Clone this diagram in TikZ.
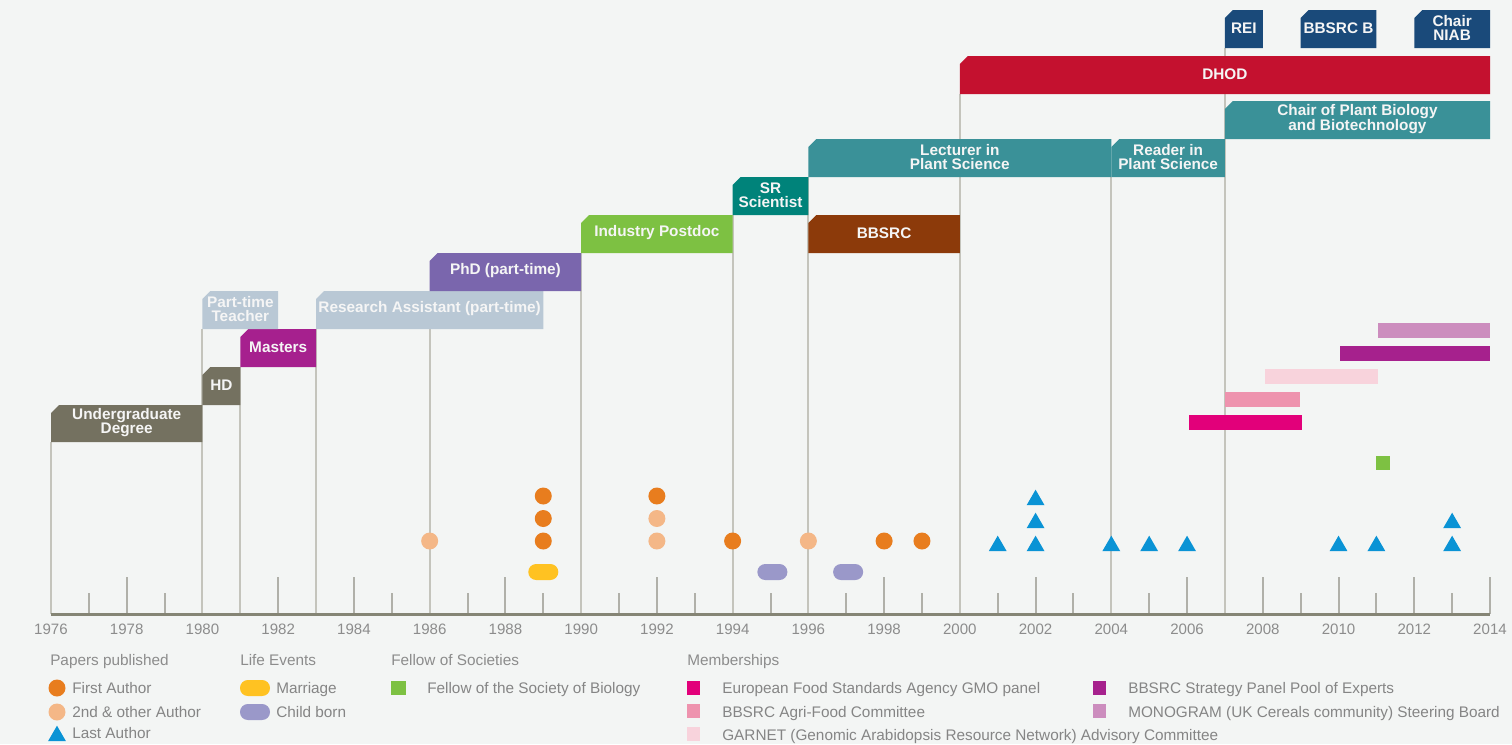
\documentclass[tikz,border=0pt]{standalone}
\usepackage{fontspec}
\setmainfont{Liberation Sans}
\usetikzlibrary{shapes.geometric}
\definecolor{bgc}{HTML}{F3F5F4}
\definecolor{olive}{HTML}{747160}
\definecolor{mag}{HTML}{A6208E}
\definecolor{lblue}{HTML}{B9C8D5}
\definecolor{phdp}{HTML}{7A66AD}
\definecolor{igreen}{HTML}{7DC142}
\definecolor{srteal}{HTML}{00837A}
\definecolor{brn}{HTML}{8C3A0A}
\definecolor{teal2}{HTML}{3A9198}
\definecolor{dred}{HTML}{C4112F}
\definecolor{navy2}{HTML}{1A4A7A}
\definecolor{orng}{HTML}{E87D1E}
\definecolor{lorng}{HTML}{F4B787}
\definecolor{tblue}{HTML}{0A93D5}
\definecolor{yell}{HTML}{FFC222}
\definecolor{lav}{HTML}{9A98C9}
\definecolor{efsa}{HTML}{E2007A}
\definecolor{agri}{HTML}{EE93AE}
\definecolor{garnet}{HTML}{F8D3DC}
\definecolor{strat}{HTML}{A6218D}
\definecolor{mono}{HTML}{CC8DBE}
\definecolor{vgrey}{HTML}{C4C4BC}
\definecolor{axgrey}{HTML}{858575}
\definecolor{txtgrey}{HTML}{8C8C8C}
\pgfdeclarelayer{back}
\pgfdeclarelayer{lines}
\pgfsetlayers{back,lines,main}
\newcommand\yr[1]{(51+((#1)-1976)*37.868)}
\newcommand\cbox[7]{%
  \fill[#6] ({\yr{#2}},#5) -- ({\yr{#2}},{#4+8}) -- ({\yr{#2}+8},#4) -- ({\yr{#3}},#4) -- ({\yr{#3}},#5) -- cycle;
  \coordinate (#1-bl) at ({\yr{#2}},#5);
  \node[boxlabel] (#1) at ({(\yr{#2}+\yr{#3})/2},{(#4+#5)/2-1}) {#7};
}
\tikzset{
  boxlabel/.style={text=white!96!black, font=\bfseries\fontsize{11.5}{10.5}\selectfont, align=center, inner sep=0pt},
  vline/.style={draw=vgrey, line width=1.5pt},
  tickline/.style={draw=vgrey!90!black, line width=1.5pt},
  axisline/.style={draw=axgrey, line width=2.25pt},
  yearlbl/.style={text=txtgrey, font=\fontsize{11.3}{13}\selectfont, inner sep=0pt},
  dotA/.style={circle, fill=orng, minimum size=12.75pt, inner sep=0pt},
  dotB/.style={circle, fill=lorng, minimum size=12.75pt, inner sep=0pt},
  tri/.style={regular polygon, regular polygon sides=3, fill=tblue, minimum size=15.5pt, inner sep=0pt},
  pill/.style={rectangle, rounded corners=5.9pt, minimum width=22.5pt, minimum height=12pt, inner sep=0pt},
  sq/.style={rectangle, minimum width=10.5pt, minimum height=10.5pt, inner sep=0pt},
  msq/.style={rectangle, minimum width=9.75pt, minimum height=11pt, inner sep=0pt},
  legtitle/.style={anchor=base west, text=txtgrey, font=\fontsize{11.5}{13}\selectfont, inner sep=0pt},
  legtext/.style={anchor=base west, text=txtgrey!95!black, font=\fontsize{11.5}{13}\selectfont, inner sep=0pt},
}
\begin{document}
\begin{tikzpicture}[x=0.75pt,y=-0.75pt]
\useasboundingbox (0,0) rectangle (1512,744);
\begin{pgfonlayer}{back}
\fill[bgc] (0,0) rectangle (1512,744);
\end{pgfonlayer}
\coordinate (axisl) at (51,614);
\coordinate (axisr) at (1490,614);
% career boxes
\cbox{ug}{1976}{1980}{405}{442}{olive}{Undergraduate\\Degree}
\cbox{hd}{1980}{1981}{367}{405}{olive}{HD}
\cbox{ms}{1981}{1983}{329}{367}{mag}{Masters}
\cbox{pt}{1980}{1982}{291}{329}{lblue}{Part-time\\Teacher}
\cbox{ra}{1983}{1989}{291}{329}{lblue}{Research Assistant (part-time)}
\cbox{phd}{1986}{1990}{253}{291}{phdp}{PhD (part-time)}
\cbox{ip}{1990}{1994}{215}{253}{igreen}{Industry Postdoc}
\cbox{sr}{1994}{1996}{177}{215}{srteal}{SR\\Scientist}
\cbox{bb}{1996}{2000}{215}{253}{brn}{BBSRC}
\cbox{lec}{1996}{2004}{139}{177}{teal2}{Lecturer in\\Plant Science}
\cbox{rd}{2004}{2007}{139}{177}{teal2}{Reader in\\Plant Science}
\cbox{ch}{2007}{2014}{101}{139}{teal2}{Chair of Plant Biology\\and Biotechnology}
\cbox{dh}{2000}{2014}{56}{94}{dred}{DHOD}
\cbox{rei}{2007}{2008}{10}{48}{navy2}{REI}
\cbox{bbb}{2009}{2011}{10}{48}{navy2}{BBSRC B}
\cbox{niab}{2012}{2014}{10}{48}{navy2}{Chair\\NIAB}
% connectors from boxes to axis
\begin{pgfonlayer}{lines}
\foreach \n in {ug,pt,ms,ra,phd,ip,sr,lec,dh,rd,rei}
  \draw[vline] (\n-bl) -- (\n-bl |- axisl);
\foreach \y in {1978,1982,1984,1988,1992,1998,2002,2006,2008,2010,2012,2014}
  \draw[tickline] ({\yr{\y}},577) -- ({\yr{\y}},614);
\foreach \y in {1977,1979,1985,1987,1989,1991,1993,1995,1997,1999,2001,2003,2005,2009,2011,2013}
  \draw[tickline] ({\yr{\y}},593) -- ({\yr{\y}},614);
\end{pgfonlayer}
\draw[axisline] (axisl) -- (axisr);
\foreach \y in {1976,1978,...,2014}
  \node[yearlbl] (yl\y) at ({\yr{\y}},629) {\y};
% memberships
\fill[mono] (1378,323) rectangle (1490,338);
\fill[strat] (1340,346) rectangle (1490,361);
\fill[garnet] (1265,369) rectangle (1378,384);
\fill[agri] (1225,392) rectangle (1300,407);
\fill[efsa] (1189,415) rectangle (1302,430);
% fellow
\node[sq, fill=igreen] (fel) at ({\yr{2011.18}},463) {};
% papers
\node[dotB] (p1) at ({\yr{1986}},541) {};
\node[dotA] (p2) at ({\yr{1989}},541) {};
\node[dotA] (p3) at ({\yr{1989}},518.5) {};
\node[dotA] (p4) at ({\yr{1989}},496) {};
\node[dotB] (p5) at ({\yr{1992}},541) {};
\node[dotB] (p6) at ({\yr{1992}},518.5) {};
\node[dotA] (p7) at ({\yr{1992}},496) {};
\node[dotA] (p8) at ({\yr{1994}},541) {};
\node[dotB] (p9) at ({\yr{1996}},541) {};
\node[dotA] (p10) at ({\yr{1998}},541) {};
\node[dotA] (p11) at ({\yr{1999}},541) {};
\node[tri] (t1) at ({\yr{2001}},546) {};
\node[tri] (t2) at ({\yr{2002}},546) {};
\node[tri] (t3) at ({\yr{2002}},523) {};
\node[tri] (t4) at ({\yr{2002}},500) {};
\node[tri] (t5) at ({\yr{2004}},546) {};
\node[tri] (t6) at ({\yr{2005}},546) {};
\node[tri] (t7) at ({\yr{2006}},546) {};
\node[tri] (t8) at ({\yr{2010}},546) {};
\node[tri] (t9) at ({\yr{2011}},546) {};
\node[tri] (t10) at ({\yr{2013}},546) {};
\node[tri] (t11) at ({\yr{2013}},523) {};
% life events
\node[pill, fill=yell] (mar) at ({\yr{1989}},572) {};
\node[pill, fill=lav] (c1) at ({\yr{1995.05}},572) {};
\node[pill, fill=lav] (c2) at ({\yr{1997.05}},572) {};
% legend
\node[legtitle] (lt1) at (50,665.5) {Papers published};
\node[dotA] (lg1) at (57,688) {};
\node[legtext] (lg1t) at (72,693.5) {First Author};
\node[dotB] (lg2) at (57,712) {};
\node[legtext] (lg2t) at (72,717.5) {2nd \& other Author};
\node[tri] (lg3) at (57,736) {};
\node[legtext] (lg3t) at (72,738.5) {Last Author};
\node[legtitle] (lt2) at (240,665.5) {Life Events};
\node[pill, fill=yell] (lg4) at (255,688) {};
\node[legtext] (lg4t) at (276,693.5) {Marriage};
\node[pill, fill=lav] (lg5) at (255,712) {};
\node[legtext] (lg5t) at (276,717.5) {Child born};
\node[legtitle] (lt3) at (391,665.5) {Fellow of Societies};
\node[sq, fill=igreen, minimum width=11pt, minimum height=11pt] (lg6) at (398.5,688) {};
\node[legtext] (lg6t) at (427,693.5) {Fellow of the Society of Biology};
\node[legtitle] (lt4) at (687,665.5) {Memberships};
\node[msq, fill=efsa] (m1) at (693.5,688) {};
\node[legtext] (m1t) at (722,693.5) {European Food Standards Agency GMO panel};
\node[msq, fill=agri] (m2) at (693.5,711) {};
\node[legtext] (m2t) at (722,717.5) {BBSRC Agri-Food Committee};
\node[msq, fill=garnet] (m3) at (693.5,734) {};
\node[legtext] (m3t) at (722,740) {GARNET (Genomic Arabidopsis Resource Network) Advisory Committee};
\node[msq, fill=strat] (m4) at (1099.5,688) {};
\node[legtext] (m4t) at (1128,693.5) {BBSRC Strategy Panel Pool of Experts};
\node[msq, fill=mono] (m5) at (1099.5,711) {};
\node[legtext] (m5t) at (1128,717.5) {MONOGRAM (UK Cereals community) Steering Board};
\end{tikzpicture}
\end{document}
